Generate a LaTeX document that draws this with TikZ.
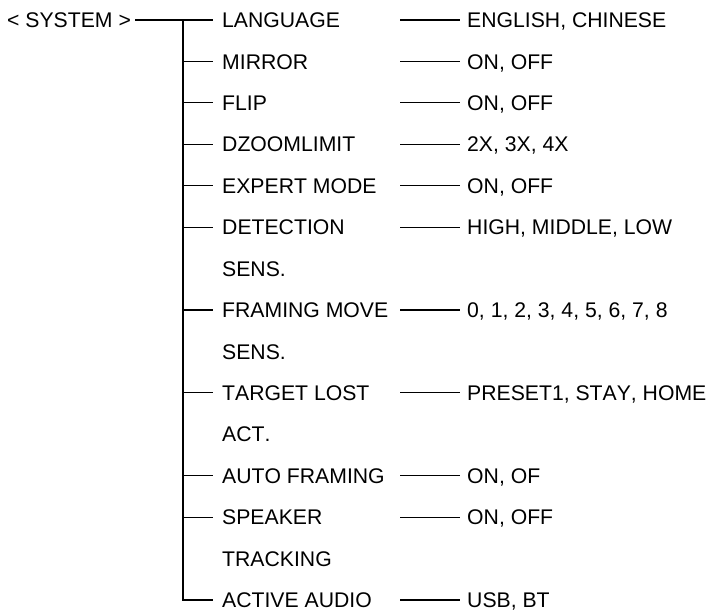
\documentclass[tikz,border=0pt]{standalone}
\usepackage{fontspec}
\setmainfont[Kerning=Off]{Liberation Sans}
\begin{document}
\begin{tikzpicture}[x=1pt,y=-1pt,
  txt/.style={inner ysep=0pt,anchor=base west,font=\fontsize{21.2}{24}\selectfont},
  item/.style={txt,inner xsep=9pt},
  valtxt/.style={txt,inner xsep=7pt},
  rootbox/.style={txt,inner xsep=4pt},
  conn/.style={line width=1.2pt}]
\useasboundingbox (0,0) rectangle (711,613);
\def\rs{41.43}
% junction coordinates
\foreach \k in {0,...,14}{
  \coordinate (t\k) at (183,{20+\rs*\k});
  \coordinate (s\k) at (400,{20+\rs*\k});
}
\node[rootbox] (root) at (3,{20+7.6}) {< SYSTEM >};
% items
\node[item] (i0)  at (213,{20+\rs*0+7.6})  {LANGUAGE};
\node[item] (i1)  at (213,{20+\rs*1+7.6})  {MIRROR};
\node[item] (i2)  at (213,{20+\rs*2+7.6})  {FLIP};
\node[item] (i3)  at (213,{20+\rs*3+7.6})  {DZOOMLIMIT};
\node[item] (i4)  at (213,{20+\rs*4+7.6})  {EXPERT MODE};
\node[item] (i5)  at (213,{20+\rs*5+7.6})  {DETECTION};
\node[item] (i6)  at (213,{20+\rs*6+7.6})  {SENS.};
\node[item] (i7)  at (213,{20+\rs*7+7.6})  {FRAMING MOVE};
\node[item] (i8)  at (213,{20+\rs*8+7.6})  {SENS.};
\node[item] (i9)  at (213,{20+\rs*9+7.6})  {TARGET LOST};
\node[item] (i10) at (213,{20+\rs*10+7.6}) {ACT.};
\node[item] (i11) at (213,{20+\rs*11+7.6}) {AUTO FRAMING};
\node[item] (i12) at (213,{20+\rs*12+7.6}) {SPEAKER};
\node[item] (i13) at (213,{20+\rs*13+7.6}) {TRACKING};
\node[item] (i14) at (213,{20+\rs*14+7.6}) {ACTIVE AUDIO};
% values
\node[valtxt] (v0)  at (460,{20+\rs*0+7.6})  {ENGLISH, CHINESE};
\node[valtxt] (v1)  at (460,{20+\rs*1+7.6})  {ON, OFF};
\node[valtxt] (v2)  at (460,{20+\rs*2+7.6})  {ON, OFF};
\node[valtxt] (v3)  at (460,{20+\rs*3+7.6})  {2X, 3X, 4X};
\node[valtxt] (v4)  at (460,{20+\rs*4+7.6})  {ON, OFF};
\node[valtxt] (v5)  at (460,{20+\rs*5+7.6})  {HIGH, MIDDLE, LOW};
\node[valtxt] (v7)  at (460,{20+\rs*7+7.6})  {0, 1, 2, 3, 4, 5, 6, 7, 8};
\node[valtxt] (v9)  at (460,{20+\rs*9+7.6})  {PRESET1, STAY, HOME};
\node[valtxt] (v11) at (460,{20+\rs*11+7.6}) {ON, OF};
\node[valtxt] (v12) at (460,{20+\rs*12+7.6}) {ON, OFF};
\node[valtxt] (v14) at (460,{20+\rs*14+7.6}) {USB, BT};
% connectors
\draw[conn] (root.east |- t0) -- (i0.west |- t0);
\draw[conn] (t0) -- (t14) -- (i14.west |- t14);
\foreach \k in {1,2,3,4,5,7,9,11,12}{
  \draw[conn] (t\k) -- (i\k.west |- t\k);
}
\foreach \k in {0,1,2,3,4,5,7,9,11,12,14}{
  \draw[conn] (s\k) -- (v\k.west |- s\k);
}
\end{tikzpicture}
\end{document}
